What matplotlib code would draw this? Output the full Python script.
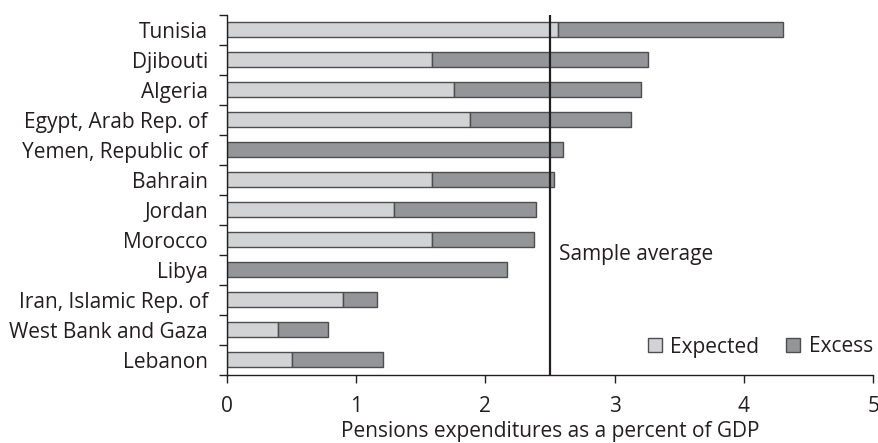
import matplotlib
matplotlib.use("Agg")
import matplotlib.pyplot as plt
from matplotlib.patches import Patch
import numpy as np

plt.rcParams['font.family'] = ['Open Sans', 'DejaVu Sans']

countries = ["Tunisia", "Djibouti", "Algeria", "Egypt, Arab Rep. of", "Yemen, Republic of",
             "Bahrain", "Jordan", "Morocco", "Libya", "Iran, Islamic Rep. of",
             "West Bank and Gaza", "Lebanon"]
expected = [2.565, 1.585, 1.76, 1.88, 0.0, 1.585, 1.295, 1.585, 0.0, 0.90, 0.40, 0.505]
total = [4.30, 3.26, 3.20, 3.13, 2.60, 2.53, 2.39, 2.375, 2.17, 1.16, 0.78, 1.205]
excess = [t - e for t, e in zip(total, expected)]
sample_average = 2.5
xticks = [0, 1, 2, 3, 4, 5]

light = "#d1d3d4"
dark = "#939598"
edge = "#4d4d4f"
txt = "#231f20"
fs = 15

fig = plt.figure(figsize=(8.79, 4.43), dpi=100)
ax = fig.add_axes([226.7/879, 1 - 374.7/443, 646.6/879, 360/443])

y = np.arange(len(countries))
h = 0.51
ax.barh(y, expected, height=h, color=light, edgecolor=edge, linewidth=1.0, label="Expected")
ax.barh(y, excess, left=expected, height=h, color=dark, edgecolor=edge, linewidth=1.0, label="Excess")

ax.axvline(sample_average, color=txt, linewidth=1.6, zorder=5)
ax.text(sample_average + 0.07, 7.48, "Sample average", fontsize=fs, va="center", ha="left", color=txt)

ax.set_xlim(0, 5)
ax.set_ylim(len(countries) - 0.5, -0.5)
ax.set_xticks(xticks)
ax.set_xticklabels([str(v) for v in xticks])
ax.set_yticks(y)
ax.set_yticklabels(countries)
ax.set_yticks(np.arange(-0.5, len(countries)), minor=True)
ax.tick_params(axis='y', which='major', length=0, pad=13.5, labelsize=fs, labelcolor=txt)
ax.tick_params(axis='y', which='minor', length=6, width=1.0, color=txt)
ax.tick_params(axis='x', which='major', length=6, width=1.0, pad=9, labelsize=fs, labelcolor=txt, color=txt)
ax.set_xlabel("Pensions expenditures as a percent of GDP", fontsize=fs, color=txt, labelpad=3)

for s in ["top", "right"]:
    ax.spines[s].set_visible(False)
for s in ["left", "bottom"]:
    ax.spines[s].set_color(txt)
    ax.spines[s].set_linewidth(1.0)

handles = [Patch(facecolor=light, edgecolor=edge, linewidth=1.0, label="Expected"),
           Patch(facecolor=dark, edgecolor=edge, linewidth=1.0, label="Excess")]
ax.legend(handles=handles, loc="center right", bbox_to_anchor=(1.0, (374.7 - 347) / 360),
          ncol=2, frameon=False, fontsize=fs, handlelength=0.67, handleheight=0.67,
          handletextpad=0.42, columnspacing=1.3, borderpad=0, borderaxespad=0,
          labelcolor=txt)

fig.savefig("out.png", dpi=100)
